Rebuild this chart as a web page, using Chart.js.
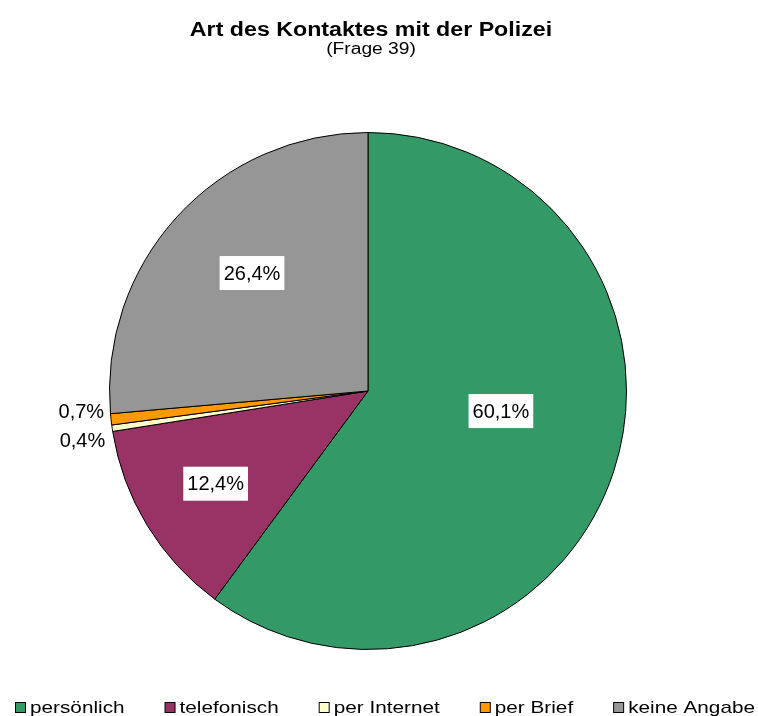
<!DOCTYPE html>
<html>
<head>
<meta charset="utf-8">
<script src="https://cdn.jsdelivr.net/npm/chart.js@4/dist/chart.umd.min.js"></script>
<style>
  html, body { margin: 0; padding: 0; background: #fff; }
  #wrap { width: 758px; height: 716px; }
</style>
</head>
<body>
<div id="wrap"><canvas id="Chart"></canvas></div>
<script>
const title = "Art des Kontaktes mit der Polizei";
const subtitle = "(Frage 39)";
const categories = ["persönlich", "telefonisch", "per Internet", "per Brief", "keine Angabe"];
const shares = [60.1, 12.4, 0.4, 0.7, 26.4];
const colors = ["#339966", "#993366", "#FFFFCC", "#FF9900", "#969696"];

const FONT = "'Liberation Sans', Arial, sans-serif";
const fmt = (v) => v.toFixed(1).replace(".", ",") + "%";

// label placement per slice: inside = boxed, outside = plain text left of pie
const labelStyle = [
  { inside: true, f: 0.52, shift: -9.6 },
  { inside: true, f: 0.69, shift: 0 },
  { inside: false, dy: 12 },
  { inside: false, dy: -8 },
  { inside: true, f: 0.64, shift: 3 },
];

// text in the original is drawn a bit wider than normal, so stretch it
function stretchedText(ctx, text, x, y, sx, align) {
  const w = ctx.measureText(text).width * sx;
  let left = x;
  if (align === "center") left = x - w / 2;
  if (align === "right") left = x - w;
  ctx.save();
  ctx.translate(left, y);
  ctx.scale(sx, 1);
  ctx.textAlign = "left";
  ctx.fillText(text, 0, 0);
  ctx.restore();
  return w;
}

const sliceLabels = {
  id: "sliceLabels",
  afterDatasetsDraw(chart) {
    const { ctx } = chart;
    const meta = chart.getDatasetMeta(0);
    ctx.save();
    ctx.font = `20px ${FONT}`;
    ctx.textBaseline = "middle";
    meta.data.forEach((arc, i) => {
      const st = labelStyle[i];
      const text = fmt(shares[i]);
      const mid = (arc.startAngle + arc.endAngle) / 2;
      if (st.inside) {
        const a = mid + (st.shift * Math.PI) / 180;
        const x = arc.x + Math.cos(a) * arc.outerRadius * st.f;
        const y = arc.y + Math.sin(a) * arc.outerRadius * st.f;
        const w = ctx.measureText(text).width;
        ctx.fillStyle = "#fff";
        ctx.fillRect(x - w / 2 - 4, y - 17, w + 8, 34);
        ctx.fillStyle = "#000";
        ctx.textAlign = "center";
        ctx.fillText(text, x, y + 1);
      } else {
        const x = arc.x + Math.cos(mid) * (arc.outerRadius + 7);
        const y = arc.y + Math.sin(mid) * (arc.outerRadius + 7) + st.dy;
        ctx.fillStyle = "#000";
        ctx.textAlign = "right";
        ctx.fillText(text, x, y);
      }
    });
    ctx.restore();
  },
};

const headAndLegend = {
  id: "headAndLegend",
  afterDraw(chart) {
    const { ctx } = chart;
    const cx = (chart.chartArea.left + chart.chartArea.right) / 2 + 3;
    ctx.save();
    ctx.fillStyle = "#000";
    ctx.textBaseline = "middle";
    ctx.font = `bold 20px ${FONT}`;
    stretchedText(ctx, title, cx, 30, 1.16, "center");
    ctx.font = `16px ${FONT}`;
    stretchedText(ctx, subtitle, cx, 50, 1.2, "center");

    // legend row
    ctx.font = `17px ${FONT}`;
    let x = 15;
    const y = 707.5;
    categories.forEach((c, i) => {
      ctx.fillStyle = colors[i];
      ctx.fillRect(x + 0.5, y - 5, 10, 10);
      ctx.strokeStyle = "#000";
      ctx.lineWidth = 1;
      ctx.strokeRect(x + 0.5, y - 5, 10, 10);
      ctx.fillStyle = "#000";
      const w = stretchedText(ctx, c, x + 15, y + 1, 1.22, "left");
      x += 15 + w + 40;
    });
    ctx.restore();
  },
};

new Chart(document.getElementById("Chart"), {
  type: "pie",
  data: {
    labels: categories,
    datasets: [
      {
        data: shares,
        backgroundColor: colors,
        borderColor: "#000",
        borderWidth: 1,
      },
    ],
  },
  options: {
    responsive: true,
    maintainAspectRatio: false,
    animation: false,
    layout: { padding: { top: 132, right: 22, left: 0, bottom: 66 } },
    plugins: {
      legend: { display: false },
      tooltip: { enabled: false },
    },
  },
  plugins: [sliceLabels, headAndLegend],
});
</script>
</body>
</html>
